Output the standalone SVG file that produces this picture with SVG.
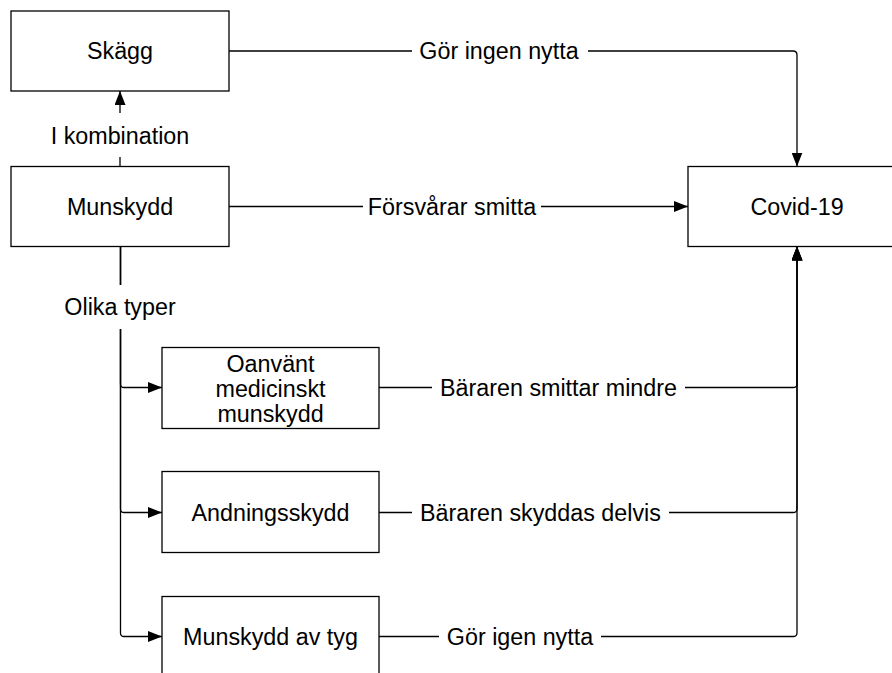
<svg xmlns="http://www.w3.org/2000/svg" width="892" height="673" viewBox="0 0 892 673">
<defs>
<marker id="arr" markerUnits="userSpaceOnUse" markerWidth="14" markerHeight="11" refX="14" refY="5.5" orient="auto">
<path d="M0,0 L14,5.5 L0,11 z" fill="#000"/>
</marker>
<style>
.box{fill:#fff;stroke:#000;stroke-width:1.3}
.edge{fill:none;stroke:#000;stroke-width:1.3}
text{font-family:"Liberation Sans",Arial,Helvetica,sans-serif;font-size:23.3px;fill:#000;text-anchor:middle}
.lbg{fill:#fff;stroke:none}
</style>
</defs>
<rect width="892" height="673" fill="#fff"/>
<g id="connectors">
<path class="edge" d="M229,51 H793 Q797,51 797,55 V166.5" marker-end="url(#arr)"/>
<path class="edge" d="M120,166.5 V91" marker-end="url(#arr)"/>
<path class="edge" d="M229,206.5 H688" marker-end="url(#arr)"/>
<path class="edge" d="M120.5,246.5 V384 Q120.5,387.5 124,387.5 H162" marker-end="url(#arr)"/>
<path class="edge" d="M120.5,246.5 V509 Q120.5,512.5 124,512.5 H162" marker-end="url(#arr)"/>
<path class="edge" d="M120.5,246.5 V633 Q120.5,636.5 124,636.5 H162" marker-end="url(#arr)"/>
<path class="edge" d="M379,387.5 H793 Q797,387.5 797,384 V246.5" marker-end="url(#arr)"/>
<path class="edge" d="M379,512.5 H793 Q797,512.5 797,509 V246.5" marker-end="url(#arr)"/>
<path class="edge" d="M379,636.5 H793 Q797,636.5 797,633 V246.5" marker-end="url(#arr)"/>
<g id="labels">
<rect class="lbg" x="412" y="36" width="176" height="30"/>
<text x="499" y="59">Gör ingen nytta</text>
<rect class="lbg" x="44" y="113" width="152" height="44"/>
<text x="120" y="144">I kombination</text>
<rect class="lbg" x="363" y="191" width="178" height="30"/>
<text x="452" y="214.5">Försvårar smitta</text>
<rect class="lbg" x="55" y="285" width="130" height="44"/>
<text x="120" y="315">Olika typer</text>
<rect class="lbg" x="432" y="372" width="253" height="30"/>
<text x="558.5" y="395.5">Bäraren smittar mindre</text>
<rect class="lbg" x="412" y="497" width="257" height="30"/>
<text x="540.5" y="520.5">Bäraren skyddas delvis</text>
<rect class="lbg" x="439" y="621" width="162" height="30"/>
<text x="520" y="644.5">Gör igen nytta</text>
</g>
</g>
<g id="skagg">
<rect class="box" x="11" y="11" width="218" height="80"/>
<text x="120" y="59">Skägg</text>
</g>
<g id="munskydd">
<rect class="box" x="11" y="166.5" width="218" height="80"/>
<text x="120" y="214.5">Munskydd</text>
</g>
<g id="covid">
<rect class="box" x="688" y="166.5" width="218" height="80"/>
<text x="797" y="214.5">Covid-19</text>
</g>
<g id="oanvant">
<rect class="box" x="162" y="347.5" width="217" height="81"/>
<text x="270.5" y="371.5">Oanvänt</text>
<text x="270.5" y="396.5">medicinskt</text>
<text x="270.5" y="421.5">munskydd</text>
</g>
<g id="andningsskydd">
<rect class="box" x="162" y="471.5" width="217" height="81"/>
<text x="270.5" y="520.5">Andningsskydd</text>
</g>
<g id="tyg">
<rect class="box" x="162" y="596.5" width="217" height="81"/>
<text x="270.5" y="644.5">Munskydd av tyg</text>
</g>
</svg>
